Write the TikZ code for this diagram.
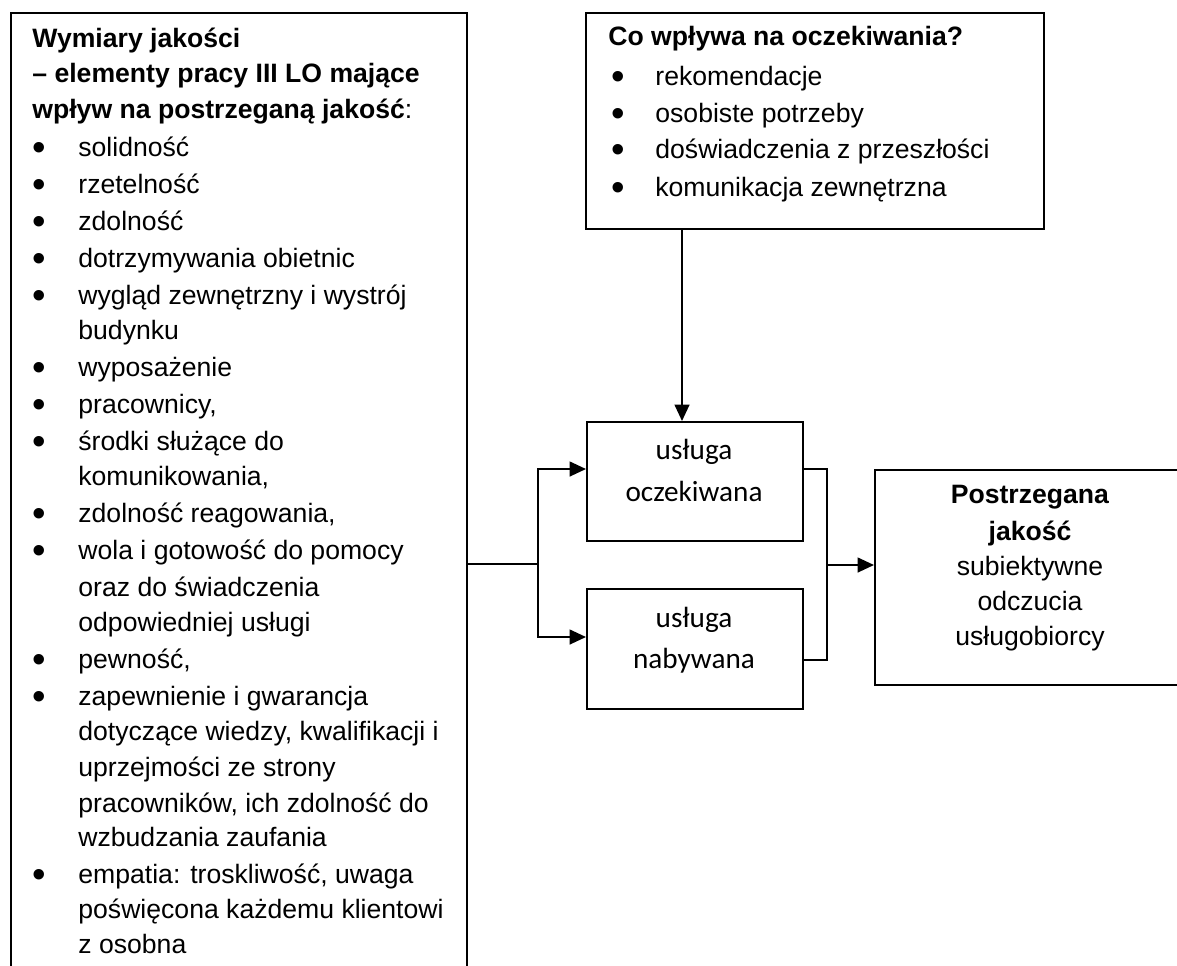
\documentclass[tikz,border=0pt]{standalone}
\usepackage{fontspec}
\setmainfont{Liberation Sans}
\newfontfamily\calfont{Carlito}
\usetikzlibrary{arrows.meta}
\newcommand{\blt}[1]{\makebox[#1][l]{\raisebox{-2.2pt}{\scalebox{1.45}{•}}}}
\tikzset{
  box/.style={draw, line width=1pt, rectangle, inner sep=0pt, anchor=north west},
  ln/.style={anchor=base west, inner sep=0pt, font=\fontsize{13.3pt}{16pt}\selectfont},
  cl/.style={anchor=base, inner sep=0pt, font=\fontsize{13.3pt}{16pt}\selectfont},
  cc/.style={anchor=base, inner sep=0pt, font=\calfont\fontsize{14.6pt}{17pt}\selectfont},
  conn/.style={line width=1pt},
  arr/.style={line width=1pt, -{Triangle[length=8.2pt,width=7.4pt]}}
}
\begin{document}
\begin{tikzpicture}[x=0.5pt,y=-0.5pt]
\useasboundingbox (0,0) rectangle (1177,965);
\clip (0,0) rectangle (1177,965);
% boxes
\node[box, minimum width=228pt, minimum height=500pt] (lbox) at (10,12) {};
\node[box, minimum width=229pt, minimum height=108pt] (tbox) at (585,12) {};
\node[box, minimum width=108pt, minimum height=59.5pt] (obox) at (586,421) {};
\node[box, minimum width=108pt, minimum height=60pt] (nbox) at (586,588) {};
\node[box, minimum width=160pt, minimum height=107.5pt] (rbox) at (874,469) {};
% left box text
\node[ln] (l1) at (32,47) {\textbf{Wymiary jakości}};
\node[ln] (l2) at (32,82.5) {\textbf{– elementy pracy III LO mające}};
\node[ln] (l3) at (32,118) {\textbf{wpływ na postrzeganą jakość}:};
\node[ln] (l4) at (32,156) {\blt{23pt}solidność};
\node[ln] (l5) at (32,193) {\blt{23pt}rzetelność};
\node[ln] (l6) at (32,230) {\blt{23pt}zdolność};
\node[ln] (l7) at (32,267) {\blt{23pt}dotrzymywania obietnic};
\node[ln] (l8) at (32,304) {\blt{23pt}wygląd zewnętrzny i wystrój};
\node[ln] (l9) at (78,339) {budynku};
\node[ln] (l10) at (32,376) {\blt{23pt}wyposażenie};
\node[ln] (l11) at (32,413) {\blt{23pt}pracownicy,};
\node[ln] (l12) at (32,450) {\blt{23pt}środki służące do};
\node[ln] (l13) at (78,485) {komunikowania,};
\node[ln] (l14) at (32,522) {\blt{23pt}zdolność reagowania,};
\node[ln] (l15) at (32,559) {\blt{23pt}wola i gotowość do pomocy};
\node[ln] (l16) at (78,596) {oraz do świadczenia};
\node[ln] (l17) at (78,631) {odpowiedniej usługi};
\node[ln] (l18) at (32,668) {\blt{23pt}pewność,};
\node[ln] (l19) at (32,705) {\blt{23pt}zapewnienie i gwarancja};
\node[ln] (l20) at (78,740) {dotyczące wiedzy, kwalifikacji i};
\node[ln] (l21) at (78,776) {uprzejmości ze strony};
\node[ln] (l22) at (78,812) {pracowników, ich zdolność do};
\node[ln] (l23) at (78,846) {wzbudzania zaufania};
\node[ln] (l24) at (32,883) {\blt{23pt}empatia: troskliwość, uwaga};
\node[ln] (l25) at (78,918) {poświęcona każdemu klientowi};
\node[ln] (l26) at (78,953) {z osobna};
% top box text
\node[ln] (t1) at (608,45) {\textbf{Co wpływa na oczekiwania?}};
\node[ln] (t2) at (611,85) {\blt{22pt}rekomendacje};
\node[ln] (t3) at (611,122) {\blt{22pt}osobiste potrzeby};
\node[ln] (t4) at (611,158) {\blt{22pt}doświadczenia z przeszłości};
\node[ln] (t5) at (611,196) {\blt{22pt}komunikacja zewnętrzna};
% middle boxes text
\node[cc] (o1) at (694,459) {usługa};
\node[cc] (o2) at (694,501) {oczekiwana};
\node[cc] (n1) at (694,627) {usługa};
\node[cc] (n2) at (694,668) {nabywana};
% right box text
\node[cl] (r1) at (1030,503) {\textbf{Postrzegana}};
\node[cl] (r2) at (1030,540) {\textbf{jakość}};
\node[cl] (r3) at (1030,575) {subiektywne};
\node[cl] (r4) at (1030,610) {odczucia};
\node[cl] (r5) at (1030,645) {usługobiorcy};
% connectors
\coordinate (jl) at (538,564);
\coordinate (jr) at (827,565);
\draw[conn] (lbox.east |- jl) -- (jl);
\draw[arr] (jl) |- (obox.west |- 0,469);
\draw[arr] (jl) |- (nbox.west |- 0,637);
\draw[conn] (obox.east |- 0,469) -| (jr |- 0,660) -- (nbox.east |- 0,660);
\draw[arr] (jr) -- (rbox.west |- jr);
\draw[arr] (tbox.south -| 682,0) -- (obox.north -| 682,0);
\end{tikzpicture}
\end{document}
